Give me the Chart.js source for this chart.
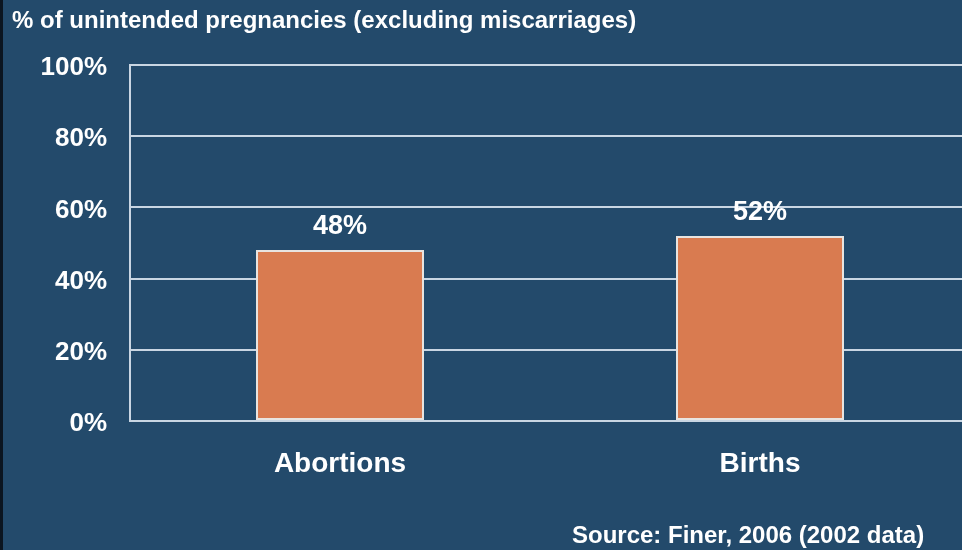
<!DOCTYPE html>
<html>
<head>
<meta charset="utf-8">
<script src="https://cdn.jsdelivr.net/npm/chart.js@4"></script>
<style>
  html, body { margin: 0; padding: 0; width: 962px; height: 550px; overflow: hidden; background: #234a6b; }
  #wrap { position: absolute; left: 0; top: 0; width: 970px; height: 550px; }
  #edge { position: absolute; left: 0; top: 0; width: 3px; height: 550px; background: #0b1520; z-index: 5; }
  .txt { position: absolute; color: #ffffff; font-family: "Liberation Sans", Arial, sans-serif; font-weight: bold; white-space: nowrap; }
  #title { left: 12px; top: 6px; font-size: 24px; }
  #source { left: 572px; top: 521px; font-size: 24px; }
</style>
</head>
<body>
<div id="edge"></div>
<div id="wrap"><canvas id="c" width="970" height="550"></canvas></div>
<div class="txt" id="title">% of unintended pregnancies (excluding miscarriages)</div>
<div class="txt" id="source">Source: Finer, 2006 (2002 data)</div>
<script>
const categories = ["Abortions", "Births"];
const values = [48, 52];
const tickValues = [0, 20, 40, 60, 80, 100];

const FONT = "'Liberation Sans', Arial, sans-serif";

const valueLabels = {
  id: 'valueLabels',
  afterDatasetsDraw(chart) {
    const ctx = chart.ctx;
    const meta = chart.getDatasetMeta(0);
    ctx.save();
    ctx.fillStyle = '#ffffff';
    ctx.font = 'bold 27px ' + FONT;
    ctx.textAlign = 'center';
    ctx.textBaseline = 'bottom';
    meta.data.forEach((bar, i) => {
      ctx.fillText(values[i] + '%', bar.x, bar.y - 10);
    });
    ctx.restore();
  }
};

new Chart(document.getElementById('c'), {
  type: 'bar',
  data: {
    labels: categories,
    datasets: [{
      data: values,
      backgroundColor: '#d97b50',
      borderColor: '#e8e4e0',
      borderWidth: 2,
      borderSkipped: false,
      categoryPercentage: 1.0,
      barPercentage: 0.4
    }]
  },
  options: {
    responsive: false,
    animation: false,
    layout: { padding: { top: 65, left: 0, right: 0, bottom: 0 } },
    plugins: { legend: { display: false }, tooltip: { enabled: false } },
    scales: {
      x: {
        grid: { display: false, drawTicks: false },
        border: { display: false },
        ticks: { color: '#ffffff', font: { family: FONT, size: 28, weight: 'bold' }, padding: 26 },
        afterFit(s) { s.height = 129; }
      },
      y: {
        min: 0, max: 100,
        afterBuildTicks(s) { s.ticks = tickValues.map(v => ({ value: v })); },
        grid: { color: '#c9d6e3', lineWidth: 2, drawTicks: false },
        border: { display: true, color: '#c9d6e3', width: 2 },
        ticks: { color: '#ffffff', font: { family: FONT, size: 26, weight: 'bold' }, padding: 23, labelOffset: 3, callback: v => v + '%' },
        afterFit(s) { s.width = 130; }
      }
    }
  },
  plugins: [valueLabels]
});
</script>
</body>
</html>
